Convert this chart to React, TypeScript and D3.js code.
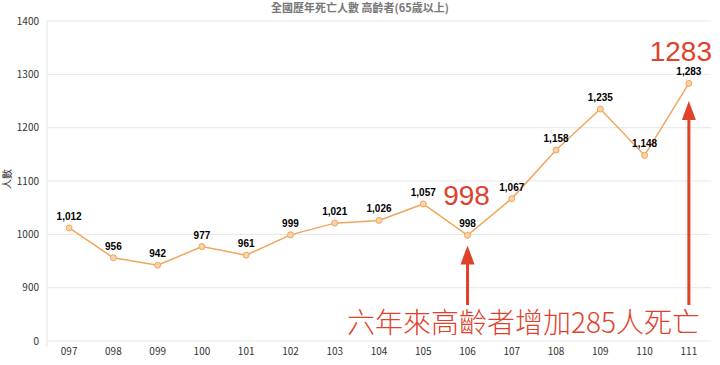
import * as d3 from "d3";
import React, { useEffect, useRef } from "react";

const years = ["097", "098", "099", "100", "101", "102", "103", "104", "105", "106", "107", "108", "109", "110", "111"];
const deaths = [1012, 956, 942, 977, 961, 999, 1021, 1026, 1057, 998, 1067, 1158, 1235, 1148, 1283];
// axis is broken: the bottom tick reads 0 but sits one step below 900
const yTickValues = [800, 900, 1000, 1100, 1200, 1300, 1400];
const yTickLabels = ["0", "900", "1000", "1100", "1200", "1300", "1400"];

export default function App() {
  const svgRef = useRef<SVGSVGElement>(null);

  useEffect(() => {
    const svg = d3.select(svgRef.current);
    svg.selectAll("*").remove();

    const width = 720;
    const height = 365;
    const margin = { top: 21, right: 9, bottom: 24, left: 47 };
    const plotWidth = width - margin.left - margin.right;
    const plotHeight = height - margin.top - margin.bottom;
    const font = "'Noto Sans CJK TC', 'Noto Sans', sans-serif";
    const red = "#e0412b";
    const orange = "#f0a65a";

    const g = svg.append("g").attr("transform", `translate(${margin.left},${margin.top})`);

    const x = d3.scaleBand().domain(years).range([0, plotWidth]);
    const y = d3.scaleLinear().domain([800, 1400]).range([plotHeight, 0]);
    const cx = (d: string) => (x(d) ?? 0) + x.bandwidth() / 2;

    // Grid lines
    g.append("g")
      .selectAll("line")
      .data(yTickValues)
      .join("line")
      .attr("x1", 0)
      .attr("x2", plotWidth)
      .attr("y1", d => y(d))
      .attr("y2", d => y(d))
      .attr("stroke", "#e6e6e6")
      .attr("stroke-width", 1);

    g.append("line")
      .attr("x1", 0).attr("x2", 0)
      .attr("y1", 0).attr("y2", plotHeight + 6)
      .attr("stroke", "#e6e6e6");

    // Y tick labels
    g.append("g")
      .selectAll("text")
      .data(yTickValues)
      .join("text")
      .attr("x", -8)
      .attr("y", d => y(d))
      .attr("dy", "0.35em")
      .attr("text-anchor", "end")
      .style("font-family", font)
      .style("font-size", "10px")
      .attr("fill", "#333")
      .text((d, i) => yTickLabels[i]);

    // X tick labels
    g.append("g")
      .selectAll("text")
      .data(years)
      .join("text")
      .attr("x", d => cx(d))
      .attr("y", plotHeight + 14)
      .attr("text-anchor", "middle")
      .style("font-family", font)
      .style("font-size", "10px")
      .attr("fill", "#333")
      .text(d => d);

    // Axis title
    g.append("text")
      .attr("transform", "rotate(-90)")
      .attr("x", -(y(1100) - 2))
      .attr("y", -36)
      .attr("text-anchor", "middle")
      .style("font-family", font)
      .style("font-size", "10px")
      .attr("fill", "#333")
      .text("人數");

    // Title
    svg.append("text")
      .attr("x", 360)
      .attr("y", 12)
      .attr("text-anchor", "middle")
      .style("font-family", font)
      .style("font-size", "11px")
      .style("font-weight", "bold")
      .attr("fill", "#777")
      .text("全國歷年死亡人數 高齡者(65歲以上)");

    // Line
    const line = d3.line<number>()
      .x((d, i) => cx(years[i]))
      .y(d => y(d));

    g.append("path")
      .datum(deaths)
      .attr("fill", "none")
      .attr("stroke", orange)
      .attr("stroke-width", 1.5)
      .attr("d", line);

    g.append("g")
      .selectAll("circle")
      .data(deaths)
      .join("circle")
      .attr("cx", (d, i) => cx(years[i]))
      .attr("cy", d => y(d))
      .attr("r", 3)
      .attr("fill", "#f8d3aa")
      .attr("stroke", orange)
      .attr("stroke-width", 1);

    g.append("g")
      .selectAll("text")
      .data(deaths)
      .join("text")
      .attr("x", (d, i) => cx(years[i]))
      .attr("y", d => y(d) - 8)
      .attr("text-anchor", "middle")
      .style("font-family", "'Liberation Sans', Arial, sans-serif")
      .style("font-size", "10px")
      .style("font-weight", "bold")
      .attr("fill", "#000")
      .text(d => d3.format(",")(d));

    // Annotations
    const i106 = years.indexOf("106");
    const i111 = years.indexOf("111");

    g.append("text")
      .attr("x", cx(years[i106]) - 1)
      .attr("y", y(deaths[i106]) - 30)
      .attr("text-anchor", "middle")
      .style("font-family", "'Liberation Sans', Arial, sans-serif")
      .style("font-size", "28px")
      .attr("fill", red)
      .text(String(deaths[i106]));

    g.append("text")
      .attr("x", plotWidth + 1)
      .attr("y", y(deaths[i111]) - 22)
      .attr("text-anchor", "end")
      .style("font-family", "'Liberation Sans', Arial, sans-serif")
      .style("font-size", "28px")
      .attr("fill", red)
      .text(String(deaths[i111]));

    const arrow = (xPos: number, yTop: number, yBottom: number) => {
      g.append("line")
        .attr("x1", xPos).attr("x2", xPos)
        .attr("y1", yTop + 15).attr("y2", yBottom)
        .attr("stroke", red)
        .attr("stroke-width", 3);
      g.append("path")
        .attr("d", `M${xPos},${yTop} L${xPos - 7},${yTop + 19} L${xPos + 7},${yTop + 19} Z`)
        .attr("fill", red);
    };
    arrow(cx(years[i106]), y(deaths[i106]) + 10, 305 - margin.top);
    arrow(cx(years[i111]), 101 - margin.top, 305 - margin.top);

    svg.append("text")
      .attr("x", 700)
      .attr("y", 333)
      .attr("text-anchor", "end")
      .style("font-family", "'Noto Sans CJK TC', sans-serif")
      .style("font-size", "28px")
      .style("font-weight", 300)
      .attr("fill", red)
      .text("六年來高齡者增加285人死亡");
  }, []);

  return (
    <svg
      ref={svgRef}
      width={720}
      height={365}
      style={{ position: "absolute", left: 0, top: 0, background: "#fff" }}
    ></svg>
  );
}
